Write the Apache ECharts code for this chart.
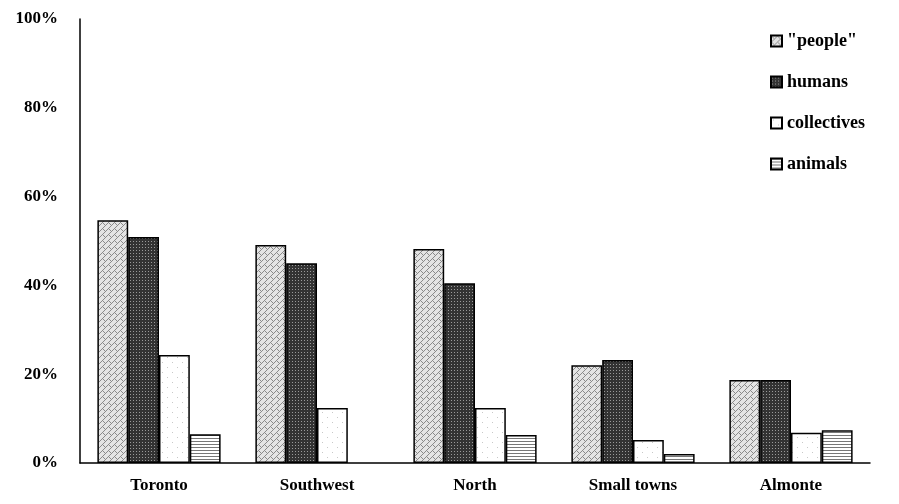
<!DOCTYPE html>
<html><head><meta charset="utf-8">
<script src="https://cdn.jsdelivr.net/npm/echarts@6/dist/echarts.min.js"></script>
<style>html,body{margin:0;background:#fff}#c{width:899px;height:504px}</style>
</head><body><div id="c"></div>
<script>
const categories = ['Toronto', 'Southwest', 'North', 'Small towns', 'Almonte']
const people = [54.7, 49.1, 48.2, 22.0, 18.7]
const humans = [50.9, 45.0, 40.5, 23.2, 18.7]
const collectives = [24.3, 12.4, 12.4, 5.2, 6.8]
const animals = [6.5, null, 6.3, 2.0, 7.4]
const yTicks = [0, 20, 40, 60, 80, 100]

// small tiled patterns drawn on canvas
function makePattern(kind) {
  const c = document.createElement('canvas')
  c.width = 6; c.height = 6
  const g = c.getContext('2d')
  if (kind === 'people') {
    g.fillStyle = '#e4e4e4'; g.fillRect(0, 0, 6, 6)
    g.fillStyle = '#8a8a8a'
    g.fillRect(0, 0, 1, 1); g.fillRect(3, 3, 1, 1); g.fillRect(1, 1, 1, 1); g.fillRect(2, 2, 1, 1)
    g.fillRect(5, 1, 1, 1); g.fillRect(4, 2, 1, 1); g.fillRect(1, 5, 1, 1); g.fillRect(2, 4, 1, 1)
  } else if (kind === 'humans') {
    g.fillStyle = '#333'; g.fillRect(0, 0, 6, 6)
    g.fillStyle = '#999'
    g.fillRect(1, 1, 1, 1); g.fillRect(4, 1, 1, 1); g.fillRect(1, 4, 1, 1); g.fillRect(4, 4, 1, 1)
  } else if (kind === 'collectives') {
    c.width = 10; c.height = 10
    g.fillStyle = '#fff'; g.fillRect(0, 0, 10, 10)
    g.fillStyle = '#c8c8c8'
    g.fillRect(2, 2, 1, 1); g.fillRect(7, 7, 1, 1)
  } else {
    c.width = 4; c.height = 3
    g.fillStyle = '#fff'; g.fillRect(0, 0, 4, 3)
    g.fillStyle = '#777'; g.fillRect(0, 0, 4, 1)
  }
  return { image: c, repeat: 'repeat' }
}

const names = ['"people"', 'humans', 'collectives', 'animals']
const datas = [people, humans, collectives, animals]
const kinds = ['people', 'humans', 'collectives', 'animals']

const chart = echarts.init(document.getElementById('c'))
chart.setOption({
  animation: false,
  textStyle: { fontFamily: 'Liberation Serif', fontWeight: 'bold', color: '#000' },
  grid: { left: 80, right: 29, top: 19, bottom: 41 },
  legend: {
    orient: 'vertical', left: 765, top: 27, itemWidth: 11, itemHeight: 11, itemGap: 23, itemSpacing: 5,
    icon: 'rect',
    textStyle: { fontFamily: 'Liberation Serif', fontWeight: 'bold', fontSize: 18, color: '#000' },
    data: names
  },
  xAxis: {
    type: 'category', data: categories,
    axisLine: { lineStyle: { color: '#000', width: 1.5 } },
    axisTick: { show: false },
    axisLabel: { fontSize: 17, fontWeight: 'bold', color: '#000', margin: 14, fontFamily: 'Liberation Serif' }
  },
  yAxis: {
    type: 'value', min: 0, max: 100, interval: 20,
    axisLine: { show: true, lineStyle: { color: '#000', width: 1.5 } },
    axisTick: { show: false },
    splitLine: { show: false },
    axisLabel: {
      fontSize: 17, fontWeight: 'bold', color: '#000', margin: 22, fontFamily: 'Liberation Serif',
      formatter: v => yTicks.includes(v) ? v + '%' : ''
    }
  },
  series: names.map((n, i) => ({
    name: n, type: 'bar', data: datas[i], barGap: 0, barCategoryGap: '22%',
    itemStyle: { color: makePattern(kinds[i]), borderColor: '#000', borderWidth: 1.5 }
  }))
})
</script></body></html>
